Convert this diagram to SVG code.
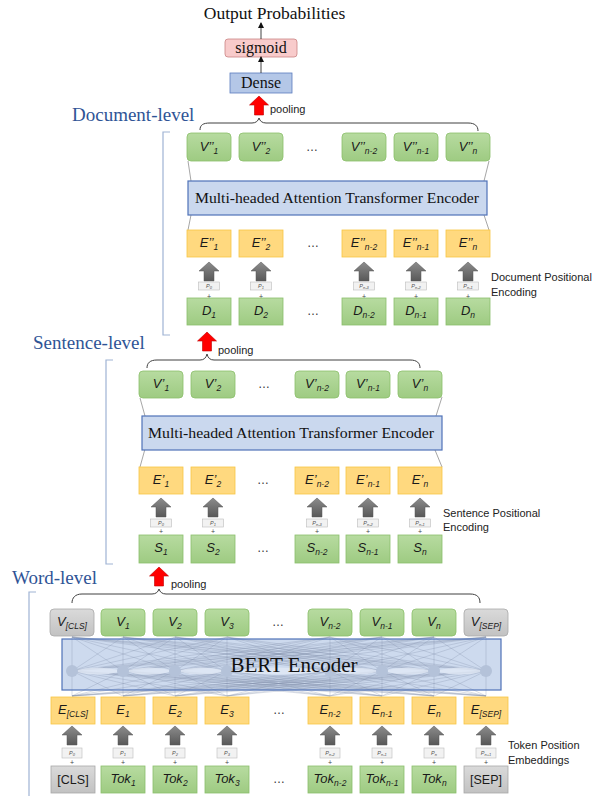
<svg xmlns="http://www.w3.org/2000/svg" width="597" height="796" viewBox="0 0 597 796">
<defs>
<linearGradient id="gg" x1="0" y1="0" x2="0" y2="1"><stop offset="0" stop-color="#b7dba0"/><stop offset="1" stop-color="#9ecb82"/></linearGradient>
<linearGradient id="gy" x1="0" y1="0" x2="0" y2="1"><stop offset="0" stop-color="#dadada"/><stop offset="1" stop-color="#c2c2c2"/></linearGradient>
<linearGradient id="ag" x1="0" y1="0" x2="0" y2="1"><stop offset="0" stop-color="#8c8c8c"/><stop offset="1" stop-color="#585858"/></linearGradient>
<path id="ga" d="M0 0L10 9L5 9L5 19L-5 19L-5 9L-10 9Z" fill="url(#ag)" stroke="#555" stroke-width="0.5"/>
<path id="ra" d="M0 0L9.5 9L4.5 9L4.5 19L-4.5 19L-4.5 9L-9.5 9Z" fill="#ff0000" stroke="#c00000" stroke-width="0.6"/>
<marker id="ah" markerWidth="6" markerHeight="6" refX="5" refY="3" orient="auto" markerUnits="userSpaceOnUse"><path d="M0 0L6 3L0 6Z" fill="#111"/></marker>
</defs>
<style>
.g{fill:url(#gg);stroke:#8bbf6b;stroke-width:0.8}
.gr{fill:url(#gy);stroke:#a8a8a8;stroke-width:0.8}
.y{fill:#ffd97f;stroke:#f8c544;stroke-width:0.8}
.tb{fill:#cad8ee;stroke:#4f72b8;stroke-width:1.2}
.pb{fill:#f2f2f2;stroke:#bcbcbc;stroke-width:0.6}
.lbl{font-family:"Liberation Sans",Arial,sans-serif;font-style:italic;font-size:13px;fill:#1a1a1a;text-anchor:middle}
.nl{font-family:"Liberation Sans",Arial,sans-serif;font-size:12.5px;fill:#1a1a1a;text-anchor:middle}
.sb{font-size:8.5px}
.ps{font-size:4px}
.ser{font-family:"Liberation Serif","Times New Roman",serif;fill:#111;text-anchor:middle}
.ttl{font-family:"Liberation Serif","Times New Roman",serif;font-size:19px;fill:#2f5496}
.side{font-family:"Liberation Sans",Arial,sans-serif;font-size:11px;fill:#222}
.pt{font-family:"Liberation Sans",Arial,sans-serif;font-style:italic;font-size:5.5px;fill:#555;text-anchor:middle}
.pl{font-family:"Liberation Sans",Arial,sans-serif;font-size:7px;fill:#444;text-anchor:middle}
.dots{font-family:"Liberation Sans",Arial,sans-serif;font-size:12px;fill:#333;text-anchor:middle}
.br{fill:none;stroke:#404040;stroke-width:1}
.bk{fill:none;stroke:#9fb3d4;stroke-width:1.2}
.tz{stroke:#808080;stroke-width:0.7}
.mesh{fill:none;stroke:#8291aa;stroke-width:0.4;opacity:0.75}
</style>
<rect width="597" height="796" fill="#fff"/>

<!-- titles -->
<text class="ttl" x="72" y="121">Document-level</text>
<text class="ttl" x="33" y="349">Sentence-level</text>
<text class="ttl" x="12" y="584">Word-level</text>
<path class="bk" d="M170 132H163V335H170"/>
<path class="bk" d="M113 360H106V564H113"/>
<path class="bk" d="M36 592H29V796"/>

<!-- top -->
<text class="ser" x="274.5" y="19" font-size="17.5">Output Probabilities</text>
<g id="sigmoid"><rect x="225" y="39" width="72" height="18" rx="3" fill="#f8cbcb" stroke="#c98383" stroke-width="0.8"/><text class="ser" x="261" y="53" font-size="16">sigmoid</text></g>
<g id="dense"><rect x="230" y="73" width="62" height="20" fill="#b4c7e7" stroke="#5b7cbf" stroke-width="0.8"/><text class="ser" x="261" y="88" font-size="16">Dense</text></g>

<g id="connectors">
<line x1="261" y1="39" x2="261" y2="23" stroke="#111" stroke-width="0.8" marker-end="url(#ah)"/>
<line x1="261" y1="73" x2="261" y2="57" stroke="#111" stroke-width="0.8" marker-end="url(#ah)"/>
<use href="#ra" x="259" y="96"/>
<use href="#ra" x="207" y="332"/>
<use href="#ra" x="159" y="567"/>
<path class="br" d="M200 130C200 125 203 123 210 123L252 123C256 123 258 121 259 118C260 121 262 123 266 123L468 123C475 123 478 126 478 131"/>
<path class="br" d="M147 368C147 363 150 360 157 360L200 360C204 360 206 358 207 354C208 358 210 360 214 360L410 360C417 360 420 363 420 368"/>
<path class="br" d="M72 603C72 598 75 594 82 594L152 594C156 594 158 592 159 589C160 592 162 594 166 594L470 594C477 594 480 597 480 603"/>
<!-- trapezoid lines -->
<line class="tz" x1="188" y1="161" x2="191" y2="181"/><line class="tz" x1="191" y1="215" x2="188" y2="230"/>
<line class="tz" x1="489" y1="161" x2="484" y2="181"/><line class="tz" x1="484" y1="215" x2="489" y2="230"/>
<line class="tz" x1="140" y1="398" x2="145" y2="416"/><line class="tz" x1="145" y1="449" x2="140" y2="467"/>
<line class="tz" x1="442" y1="397" x2="436" y2="416"/><line class="tz" x1="435" y1="450" x2="442" y2="467"/>
<!-- grey arrows doc -->
<use href="#ga" x="209" y="262"/><use href="#ga" x="261" y="262"/><use href="#ga" x="364" y="262"/><use href="#ga" x="416" y="262"/><use href="#ga" x="468" y="262"/>
<!-- grey arrows sentence -->
<use href="#ga" x="161" y="498"/><use href="#ga" x="213" y="498"/><use href="#ga" x="317" y="498"/><use href="#ga" x="368" y="498"/><use href="#ga" x="420" y="498"/>
<!-- grey arrows word -->
<use href="#ga" x="72" y="726"/><use href="#ga" x="123" y="726"/><use href="#ga" x="175" y="726"/><use href="#ga" x="227" y="726"/><use href="#ga" x="330" y="726"/><use href="#ga" x="382" y="726"/><use href="#ga" x="434" y="726"/><use href="#ga" x="486" y="726"/>
</g>

<text class="side" x="491" y="281">Document Positional</text>
<text class="side" x="491" y="296">Encoding</text>
<text class="side" x="443" y="517">Sentence Positional</text>
<text class="side" x="443" y="531">Encoding</text>
<text class="side" x="508" y="749">Token Position</text>
<text class="side" x="508" y="764">Embeddings</text>

<!-- ===== Document level ===== -->
<g id="doc-v1"><rect class="g" x="187" y="133" width="44" height="28" rx="4"/><text class="lbl" x="209" y="151">V’’<tspan class="sb" dy="3">1</tspan></text></g>
<g id="doc-v2"><rect class="g" x="239" y="133" width="44" height="28" rx="4"/><text class="lbl" x="261" y="151">V’’<tspan class="sb" dy="3">2</tspan></text></g>
<text class="dots" x="312" y="151">…</text>
<g id="doc-vn2"><rect class="g" x="342" y="133" width="44" height="28" rx="4"/><text class="lbl" x="364" y="151">V’’<tspan class="sb" dy="3">n-2</tspan></text></g>
<g id="doc-vn1"><rect class="g" x="394" y="133" width="44" height="28" rx="4"/><text class="lbl" x="416" y="151">V’’<tspan class="sb" dy="3">n-1</tspan></text></g>
<g id="doc-vn"><rect class="g" x="446" y="133" width="44" height="28" rx="4"/><text class="lbl" x="468" y="151">V’’<tspan class="sb" dy="3">n</tspan></text></g>
<g id="doc-enc"><rect class="tb" x="188" y="181" width="299" height="34"/><text class="ser" x="337" y="203" font-size="15.5" textLength="284" lengthAdjust="spacingAndGlyphs">Multi-headed Attention Transformer Encoder</text></g>
<g id="doc-e1"><rect class="y" x="187" y="230" width="44" height="27"/><text class="lbl" x="209" y="247">E’’<tspan class="sb" dy="3">1</tspan></text></g>
<g id="doc-e2"><rect class="y" x="239" y="230" width="44" height="27"/><text class="lbl" x="261" y="247">E’’<tspan class="sb" dy="3">2</tspan></text></g>
<text class="dots" x="313" y="247">…</text>
<g id="doc-en2"><rect class="y" x="342" y="230" width="44" height="27"/><text class="lbl" x="364" y="247">E’’<tspan class="sb" dy="3">n-2</tspan></text></g>
<g id="doc-en1"><rect class="y" x="394" y="230" width="44" height="27"/><text class="lbl" x="416" y="247">E’’<tspan class="sb" dy="3">n-1</tspan></text></g>
<g id="doc-en"><rect class="y" x="446" y="230" width="44" height="27"/><text class="lbl" x="468" y="247">E’’<tspan class="sb" dy="3">n</tspan></text></g>
<g id="doc-p"><rect class="pb" x="198.5" y="282" width="21" height="8"/><rect class="pb" x="250.5" y="282" width="21" height="8"/><rect class="pb" x="353.5" y="282" width="21" height="8"/><rect class="pb" x="405.5" y="282" width="21" height="8"/><rect class="pb" x="457.5" y="282" width="21" height="8"/>
<text class="pt" x="209" y="288">P<tspan class="ps" dy="1">0</tspan></text><text class="pt" x="261" y="288">P<tspan class="ps" dy="1">1</tspan></text><text class="pt" x="364" y="288">P<tspan class="ps" dy="1">n-3</tspan></text><text class="pt" x="416" y="288">P<tspan class="ps" dy="1">n-2</tspan></text><text class="pt" x="468" y="288">P<tspan class="ps" dy="1">n-1</tspan></text>
<text class="pl" x="209" y="298.5">+</text><text class="pl" x="261" y="298.5">+</text><text class="pl" x="364" y="298.5">+</text><text class="pl" x="416" y="298.5">+</text><text class="pl" x="468" y="298.5">+</text></g>
<g id="doc-d1"><rect class="g" x="187" y="298" width="44" height="27"/><text class="lbl" x="209" y="315">D<tspan class="sb" dy="3">1</tspan></text></g>
<g id="doc-d2"><rect class="g" x="239" y="298" width="44" height="27"/><text class="lbl" x="261" y="315">D<tspan class="sb" dy="3">2</tspan></text></g>
<text class="dots" x="313" y="315">…</text>
<g id="doc-dn2"><rect class="g" x="342" y="298" width="44" height="27"/><text class="lbl" x="364" y="315">D<tspan class="sb" dy="3">n-2</tspan></text></g>
<g id="doc-dn1"><rect class="g" x="394" y="298" width="44" height="27"/><text class="lbl" x="416" y="315">D<tspan class="sb" dy="3">n-1</tspan></text></g>
<g id="doc-dn"><rect class="g" x="446" y="298" width="44" height="27"/><text class="lbl" x="468" y="315">D<tspan class="sb" dy="3">n</tspan></text></g>
<text class="side" x="270" y="113">pooling</text>

<!-- ===== Sentence level ===== -->
<g id="sen-v1"><rect class="g" x="139" y="371" width="44" height="27" rx="4"/><text class="lbl" x="161" y="388">V’<tspan class="sb" dy="3">1</tspan></text></g>
<g id="sen-v2"><rect class="g" x="191" y="371" width="44" height="27" rx="4"/><text class="lbl" x="213" y="388">V’<tspan class="sb" dy="3">2</tspan></text></g>
<text class="dots" x="264" y="388">…</text>
<g id="sen-vn2"><rect class="g" x="295" y="371" width="44" height="27" rx="4"/><text class="lbl" x="317" y="388">V’<tspan class="sb" dy="3">n-2</tspan></text></g>
<g id="sen-vn1"><rect class="g" x="346" y="371" width="44" height="27" rx="4"/><text class="lbl" x="368" y="388">V’<tspan class="sb" dy="3">n-1</tspan></text></g>
<g id="sen-vn"><rect class="g" x="398" y="371" width="44" height="27" rx="4"/><text class="lbl" x="420" y="388">V’<tspan class="sb" dy="3">n</tspan></text></g>
<g id="sen-enc"><rect class="tb" x="142" y="416" width="300" height="34"/><text class="ser" x="291" y="438" font-size="15.5" textLength="286" lengthAdjust="spacingAndGlyphs">Multi-headed Attention Transformer Encoder</text></g>
<g id="sen-e1"><rect class="y" x="139" y="467" width="44" height="27"/><text class="lbl" x="161" y="484">E’<tspan class="sb" dy="3">1</tspan></text></g>
<g id="sen-e2"><rect class="y" x="191" y="467" width="44" height="27"/><text class="lbl" x="213" y="484">E’<tspan class="sb" dy="3">2</tspan></text></g>
<text class="dots" x="263" y="484">…</text>
<g id="sen-en2"><rect class="y" x="295" y="467" width="44" height="27"/><text class="lbl" x="317" y="484">E’<tspan class="sb" dy="3">n-2</tspan></text></g>
<g id="sen-en1"><rect class="y" x="346" y="467" width="44" height="27"/><text class="lbl" x="368" y="484">E’<tspan class="sb" dy="3">n-1</tspan></text></g>
<g id="sen-en"><rect class="y" x="398" y="467" width="44" height="27"/><text class="lbl" x="420" y="484">E’<tspan class="sb" dy="3">n</tspan></text></g>
<g id="sen-p"><rect class="pb" x="150.5" y="519" width="21" height="8"/><rect class="pb" x="202.5" y="519" width="21" height="8"/><rect class="pb" x="306.5" y="519" width="21" height="8"/><rect class="pb" x="357.5" y="519" width="21" height="8"/><rect class="pb" x="409.5" y="519" width="21" height="8"/>
<text class="pt" x="161" y="525">P<tspan class="ps" dy="1">0</tspan></text><text class="pt" x="213" y="525">P<tspan class="ps" dy="1">1</tspan></text><text class="pt" x="317" y="525">P<tspan class="ps" dy="1">n-3</tspan></text><text class="pt" x="368" y="525">P<tspan class="ps" dy="1">n-2</tspan></text><text class="pt" x="420" y="525">P<tspan class="ps" dy="1">n-1</tspan></text>
<text class="pl" x="161" y="534">+</text><text class="pl" x="213" y="534">+</text><text class="pl" x="317" y="534">+</text><text class="pl" x="368" y="534">+</text><text class="pl" x="420" y="534">+</text></g>
<g id="sen-s1"><rect class="g" x="139" y="535" width="44" height="28"/><text class="lbl" x="161" y="552">S<tspan class="sb" dy="3">1</tspan></text></g>
<g id="sen-s2"><rect class="g" x="191" y="535" width="44" height="28"/><text class="lbl" x="213" y="552">S<tspan class="sb" dy="3">2</tspan></text></g>
<text class="dots" x="263" y="552">…</text>
<g id="sen-sn2"><rect class="g" x="295" y="535" width="44" height="28"/><text class="lbl" x="317" y="552">S<tspan class="sb" dy="3">n-2</tspan></text></g>
<g id="sen-sn1"><rect class="g" x="346" y="535" width="44" height="28"/><text class="lbl" x="368" y="552">S<tspan class="sb" dy="3">n-1</tspan></text></g>
<g id="sen-sn"><rect class="g" x="398" y="535" width="44" height="28"/><text class="lbl" x="420" y="552">S<tspan class="sb" dy="3">n</tspan></text></g>
<text class="side" x="218" y="354">pooling</text>

<!-- ===== Word level ===== -->
<g id="w-vcls"><rect class="gr" x="50" y="609" width="44" height="27" rx="4"/><text class="lbl" x="72" y="626">V<tspan class="sb" dy="3">[CLS]</tspan></text></g>
<g id="w-v1"><rect class="g" x="101" y="609" width="44" height="27" rx="4"/><text class="lbl" x="123" y="626">V<tspan class="sb" dy="3">1</tspan></text></g>
<g id="w-v2"><rect class="g" x="153" y="609" width="44" height="27" rx="4"/><text class="lbl" x="175" y="626">V<tspan class="sb" dy="3">2</tspan></text></g>
<g id="w-v3"><rect class="g" x="205" y="609" width="44" height="27" rx="4"/><text class="lbl" x="227" y="626">V<tspan class="sb" dy="3">3</tspan></text></g>
<text class="dots" x="278" y="626">…</text>
<g id="w-vn2"><rect class="g" x="308" y="609" width="44" height="27" rx="4"/><text class="lbl" x="330" y="626">V<tspan class="sb" dy="3">n-2</tspan></text></g>
<g id="w-vn1"><rect class="g" x="360" y="609" width="44" height="27" rx="4"/><text class="lbl" x="382" y="626">V<tspan class="sb" dy="3">n-1</tspan></text></g>
<g id="w-vn"><rect class="g" x="412" y="609" width="44" height="27" rx="4"/><text class="lbl" x="434" y="626">V<tspan class="sb" dy="3">n</tspan></text></g>
<g id="w-vsep"><rect class="gr" x="464" y="609" width="44" height="27" rx="4"/><text class="lbl" x="486" y="626">V<tspan class="sb" dy="3">[SEP]</tspan></text></g>

<g id="bert">
<rect x="62" y="639" width="439" height="51" fill="#c8d6ec" opacity="0.9"/>
<path class="mesh" d="M72 637L72 671M72 637L123 671M72 637L175 671M72 637L227 671M72 637L330 671M72 637L382 671M72 637L434 671M72 637L486 671
M123 637L72 671M123 637L123 671M123 637L175 671M123 637L227 671M123 637L330 671M123 637L382 671M123 637L434 671M123 637L486 671
M175 637L72 671M175 637L123 671M175 637L175 671M175 637L227 671M175 637L330 671M175 637L382 671M175 637L434 671M175 637L486 671
M227 637L72 671M227 637L123 671M227 637L175 671M227 637L227 671M227 637L330 671M227 637L382 671M227 637L434 671M227 637L486 671
M330 637L72 671M330 637L123 671M330 637L175 671M330 637L227 671M330 637L330 671M330 637L382 671M330 637L434 671M330 637L486 671
M382 637L72 671M382 637L123 671M382 637L175 671M382 637L227 671M382 637L330 671M382 637L382 671M382 637L434 671M382 637L486 671
M434 637L72 671M434 637L123 671M434 637L175 671M434 637L227 671M434 637L330 671M434 637L382 671M434 637L434 671M434 637L486 671
M486 637L72 671M486 637L123 671M486 637L175 671M486 637L227 671M486 637L330 671M486 637L382 671M486 637L434 671M486 637L486 671"/>
<path class="mesh" d="M72 671L72 696M72 671L123 696M72 671L175 696M72 671L227 696M72 671L330 696M72 671L382 696M72 671L434 696M72 671L486 696
M123 671L72 696M123 671L123 696M123 671L175 696M123 671L227 696M123 671L330 696M123 671L382 696M123 671L434 696M123 671L486 696
M175 671L72 696M175 671L123 696M175 671L175 696M175 671L227 696M175 671L330 696M175 671L382 696M175 671L434 696M175 671L486 696
M227 671L72 696M227 671L123 696M227 671L175 696M227 671L227 696M227 671L330 696M227 671L382 696M227 671L434 696M227 671L486 696
M330 671L72 696M330 671L123 696M330 671L175 696M330 671L227 696M330 671L330 696M330 671L382 696M330 671L434 696M330 671L486 696
M382 671L72 696M382 671L123 696M382 671L175 696M382 671L227 696M382 671L330 696M382 671L382 696M382 671L434 696M382 671L486 696
M434 671L72 696M434 671L123 696M434 671L175 696M434 671L227 696M434 671L330 696M434 671L382 696M434 671L434 696M434 671L486 696
M486 671L72 696M486 671L123 696M486 671L175 696M486 671L227 696M486 671L330 696M486 671L382 696M486 671L434 696M486 671L486 696"/>
<path fill="#dfe7f4" opacity="0.85" d="M72 671Q97.5 664 123 671Q97.5 678 72 671ZM123 671Q149 664 175 671Q149 678 123 671ZM175 671Q201 664 227 671Q201 678 175 671ZM227 671Q278 664 330 671Q278 678 227 671ZM330 671Q356 664 382 671Q356 678 330 671ZM382 671Q408 664 434 671Q408 678 382 671ZM434 671Q460 664 486 671Q460 678 434 671Z"/>
<g fill="#b4c2d9"><circle cx="72" cy="671" r="6"/><circle cx="123" cy="671" r="6"/><circle cx="175" cy="671" r="6"/><circle cx="227" cy="671" r="6"/><circle cx="330" cy="671" r="6"/><circle cx="382" cy="671" r="6"/><circle cx="434" cy="671" r="6"/><circle cx="486" cy="671" r="6"/></g>
<rect x="62" y="639" width="439" height="51" fill="none" stroke="#4f72b8" stroke-width="1.2"/>
<text class="ser" x="294" y="672" font-size="21">BERT Encoder</text>
</g>

<g id="w-ecls"><rect class="y" x="51" y="697" width="44" height="27"/><text class="lbl" x="73" y="714">E<tspan class="sb" dy="3">[CLS]</tspan></text></g>
<g id="w-e1"><rect class="y" x="101" y="697" width="44" height="27"/><text class="lbl" x="123" y="714">E<tspan class="sb" dy="3">1</tspan></text></g>
<g id="w-e2"><rect class="y" x="153" y="697" width="44" height="27"/><text class="lbl" x="175" y="714">E<tspan class="sb" dy="3">2</tspan></text></g>
<g id="w-e3"><rect class="y" x="205" y="697" width="44" height="27"/><text class="lbl" x="227" y="714">E<tspan class="sb" dy="3">3</tspan></text></g>
<text class="dots" x="279" y="714">…</text>
<g id="w-en2"><rect class="y" x="308" y="697" width="44" height="27"/><text class="lbl" x="330" y="714">E<tspan class="sb" dy="3">n-2</tspan></text></g>
<g id="w-en1"><rect class="y" x="360" y="697" width="44" height="27"/><text class="lbl" x="382" y="714">E<tspan class="sb" dy="3">n-1</tspan></text></g>
<g id="w-en"><rect class="y" x="412" y="697" width="44" height="27"/><text class="lbl" x="434" y="714">E<tspan class="sb" dy="3">n</tspan></text></g>
<g id="w-esep"><rect class="y" x="464" y="697" width="44" height="27"/><text class="lbl" x="486" y="714">E<tspan class="sb" dy="3">[SEP]</tspan></text></g>
<g id="w-p"><rect class="pb" x="62" y="748" width="20" height="10"/><rect class="pb" x="113" y="748" width="20" height="10"/><rect class="pb" x="165" y="748" width="20" height="10"/><rect class="pb" x="217" y="748" width="20" height="10"/><rect class="pb" x="320" y="748" width="20" height="10"/><rect class="pb" x="372" y="748" width="20" height="10"/><rect class="pb" x="424" y="748" width="20" height="10"/><rect class="pb" x="476" y="748" width="20" height="10"/>
<text class="pt" x="72" y="755">P<tspan class="ps" dy="1">0</tspan></text><text class="pt" x="123" y="755">P<tspan class="ps" dy="1">1</tspan></text><text class="pt" x="175" y="755">P<tspan class="ps" dy="1">2</tspan></text><text class="pt" x="227" y="755">P<tspan class="ps" dy="1">3</tspan></text><text class="pt" x="330" y="755">P<tspan class="ps" dy="1">n-2</tspan></text><text class="pt" x="382" y="755">P<tspan class="ps" dy="1">n-1</tspan></text><text class="pt" x="434" y="755">P<tspan class="ps" dy="1">n</tspan></text><text class="pt" x="486" y="755">P<tspan class="ps" dy="1">n+1</tspan></text>
<text class="pl" x="72" y="765">+</text><text class="pl" x="123" y="765">+</text><text class="pl" x="175" y="765">+</text><text class="pl" x="227" y="765">+</text><text class="pl" x="330" y="765">+</text><text class="pl" x="382" y="765">+</text><text class="pl" x="434" y="765">+</text><text class="pl" x="486" y="765">+</text></g>
<g id="w-tcls"><rect class="gr" x="51" y="766" width="44" height="27"/><text class="nl" x="73" y="784">[CLS]</text></g>
<g id="w-t1"><rect class="g" x="101" y="766" width="44" height="27"/><text class="lbl" x="123" y="783">Tok<tspan class="sb" dy="3">1</tspan></text></g>
<g id="w-t2"><rect class="g" x="153" y="766" width="44" height="27"/><text class="lbl" x="175" y="783">Tok<tspan class="sb" dy="3">2</tspan></text></g>
<g id="w-t3"><rect class="g" x="205" y="766" width="44" height="27"/><text class="lbl" x="227" y="783">Tok<tspan class="sb" dy="3">3</tspan></text></g>
<text class="dots" x="279" y="783">…</text>
<g id="w-tn2"><rect class="g" x="308" y="766" width="44" height="27"/><text class="lbl" x="330" y="783">Tok<tspan class="sb" dy="3">n-2</tspan></text></g>
<g id="w-tn1"><rect class="g" x="360" y="766" width="44" height="27"/><text class="lbl" x="382" y="783">Tok<tspan class="sb" dy="3">n-1</tspan></text></g>
<g id="w-tn"><rect class="g" x="412" y="766" width="44" height="27"/><text class="lbl" x="434" y="783">Tok<tspan class="sb" dy="3">n</tspan></text></g>
<g id="w-tsep"><rect class="gr" x="464" y="766" width="44" height="27"/><text class="nl" x="486" y="784">[SEP]</text></g>
<text class="side" x="171" y="588">pooling</text>
</svg>
